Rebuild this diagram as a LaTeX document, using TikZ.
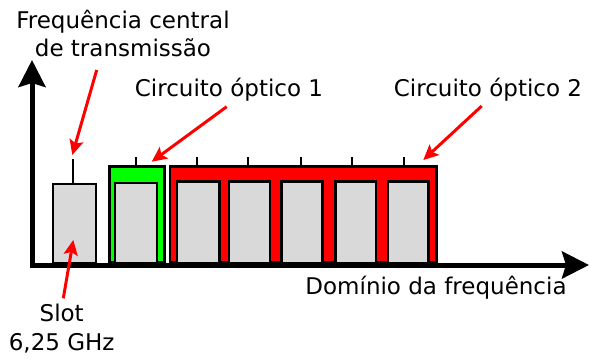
\documentclass[tikz,border=0pt]{standalone}
\usepackage{fontspec}
\setmainfont{DejaVu Sans}
\usepackage{xcolor}
\definecolor{ColRed}{RGB}{255,0,0}
\definecolor{ColGreen}{RGB}{0,255,0}
\definecolor{ColSlot}{RGB}{217,217,217}
\usepackage{tikz}
\usetikzlibrary{arrows.meta}
\tikzstyle{Slot}=[rectangle,draw=black,fill=ColSlot,line width=2.3pt,
inner sep=0pt,anchor=south west]
\tikzstyle{Band}=[rectangle,draw=black,line width=2.8pt,inner sep=0pt,
anchor=south west]
\tikzstyle{Tick}=[draw=black,line width=2pt]
\tikzstyle{Axis}=[draw=black,line width=5pt,
{Stealth[length=27pt,width=27pt,inset=4pt]}-{Stealth[length=27pt,width=27pt,inset=4pt]}]
\tikzstyle{Pointer}=[draw=ColRed,line width=3pt,
-{Stealth[length=15pt,width=14pt,inset=3pt]}]
\tikzstyle{Label}=[font=\fontsize{23}{28.4}\selectfont,align=center,
inner sep=0pt,anchor=base]

\begin{document}
\begin{tikzpicture}[x=1pt,y=-1pt]
        \useasboundingbox(0,0)rectangle(589,359);
        % bands
        \node[Band,fill=ColGreen,minimum width=55pt,minimum height=96pt]
            (g)at(108.0,264){};
        \node[Band,fill=ColRed,minimum width=266.8pt,minimum height=96pt]
            (r)at(168.6,264){};
        % slots
        \node[Slot,minimum width=43.3pt,minimum height=79pt](s0)at(51.7,264){};
        \node[Slot,minimum width=42pt,minimum height=79.7pt](s1)at(113.7,264){};
        \node[Slot,minimum width=42.6pt,minimum height=81.3pt](s2)at(175.7,264){};
        \node[Slot,minimum width=41.3pt,minimum height=81.3pt](s3)at(227.7,264){};
        \node[Slot,minimum width=41pt,minimum height=81.3pt](s4)at(280.3,264){};
        \node[Slot,minimum width=40.4pt,minimum height=81.3pt](s5)at(334.3,264){};
        \node[Slot,minimum width=40.3pt,minimum height=81.3pt](s6)at(387.0,264){};
        % axes
        \coordinate(O)at(32,265);
        \coordinate(ytop)at(32,60);
        \coordinate(xend)at(589,265);
        \draw[Axis](ytop)--(O)--(xend);
        % ticks
        \coordinate(k0)at(73.3,159);
        \coordinate(k1)at(136,157);
        \coordinate(k2)at(197,157);
        \coordinate(k3)at(248,157);
        \coordinate(k4)at(301,157);
        \coordinate(k5)at(352,157);
        \coordinate(k6)at(404,157);
        \draw[Tick](k0)--(k0|-s0.north);
        \draw[Tick](k1)--(k1|-g.north);
        \draw[Tick](k2)--(k2|-r.north);
        \draw[Tick](k3)--(k3|-r.north);
        \draw[Tick](k4)--(k4|-r.north);
        \draw[Tick](k5)--(k5|-r.north);
        \draw[Tick](k6)--(k6|-r.north);
        % labels
        \node[Label](freq)at(123,56.7){Frequência central\\de transmissão};
        \node[Label](circ1)at(229,96.7){Circuito óptico 1};
        \node[Label](circ2)at(488,96){Circuito óptico 2};
        \node[Label](dom)at(436,294.3){Domínio da frequência};
        \node[Label](slot)at(61.7,350){Slot\\6,25 GHz};
        % pointers
        \coordinate(p1)at(96.7,70);
        \coordinate(a1)at(72.3,155);
        \coordinate(p2)at(226.7,106.7);
        \coordinate(a2)at(151.7,161.7);
        \coordinate(p3)at(481.7,106);
        \coordinate(a3)at(423.3,160);
        \coordinate(p4)at(63.3,298.3);
        \coordinate(a4)at(73.3,240);
        \draw[Pointer](p1)--(a1);
        \draw[Pointer](p2)--(a2);
        \draw[Pointer](p3)--(a3);
        \draw[Pointer](p4)--(a4);
    \end{tikzpicture}
\end{document}
